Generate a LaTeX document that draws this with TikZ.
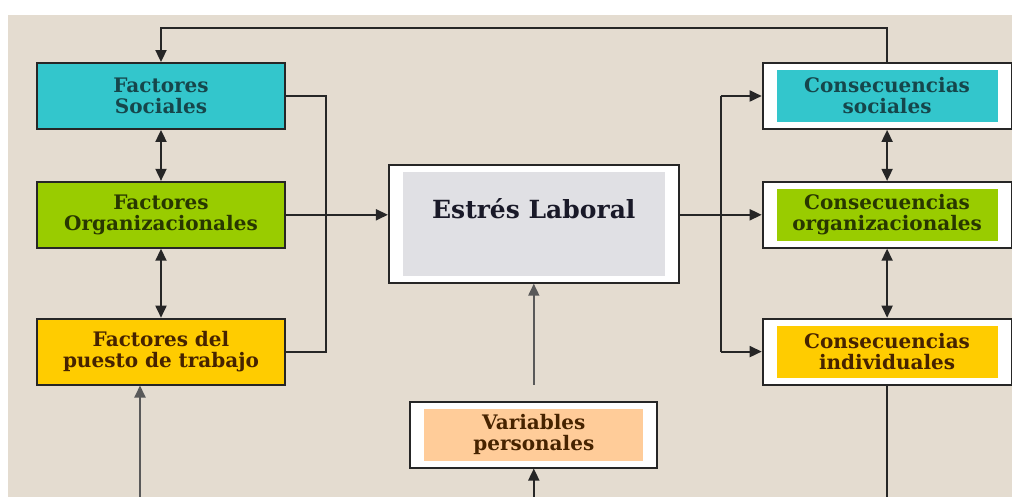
\documentclass[tikz,border=0pt]{standalone}
\usepackage{fontspec}
\setmainfont{DejaVu Serif}
\usetikzlibrary{arrows.meta, positioning, calc}
\definecolor{paper}{RGB}{228,220,208}
\definecolor{socialcyan}{RGB}{51,198,204}
\definecolor{orggreen}{RGB}{153,204,0}
\definecolor{jobyellow}{RGB}{255,204,0}
\definecolor{stressgrey}{RGB}{224,224,228}
\definecolor{peach}{RGB}{255,204,153}
\definecolor{tealtext}{RGB}{22,70,75}
\definecolor{greentext}{RGB}{40,55,0}
\definecolor{browntext}{RGB}{70,35,0}
\definecolor{navytext}{RGB}{25,25,40}
\tikzset{
    factor/.style={rectangle, draw=black!85, line width=1.8pt, align=center, minimum width=248pt, minimum height=66pt, font=\bfseries\fontsize{20}{21}\selectfont},
    framed/.style={rectangle, draw=black!85, line width=1.8pt, fill=white, align=center, minimum width=249pt, minimum height=66pt, font=\bfseries\fontsize{20}{21}\selectfont,
        path picture={\fill[#1] ([xshift=14pt,yshift=-7pt]path picture bounding box.north west) rectangle ([xshift=-14pt,yshift=7pt]path picture bounding box.south east);}},
    arrow/.style={line width=1.8pt, draw=black!85, -{Triangle[length=12pt,width=11pt]}},
    twoway/.style={line width=1.8pt, draw=black!85, {Triangle[length=12pt,width=11pt]}-{Triangle[length=12pt,width=11pt]}},
    link/.style={line width=1.8pt, draw=black!85}
}

\begin{document}
\begin{tikzpicture}[x=1pt, y=1pt]

\useasboundingbox (0,0) rectangle (1012,-497);
\fill[white] (0,0) rectangle (1012,-497);
\fill[paper] (8,-15) rectangle (1012,-497);

% Factores (left column)
\node[factor, fill=socialcyan, text=tealtext] (social) at (161,-96) {Factores\\Sociales};
\node[factor, fill=orggreen, text=greentext] (organiz) [below=51pt of social] {Factores\\Organizacionales};
\node[factor, fill=jobyellow, text=browntext] (puesto) [below=69pt of organiz] {Factores del\\puesto de trabajo};

% Estres Laboral and Variables personales (middle)
\node[framed=stressgrey, text=navytext, minimum width=290pt, minimum height=118pt, font=\bfseries\fontsize{25}{28}\selectfont, text height=18pt, text depth=28pt] (estres) [right=102pt of organiz, yshift=-9pt] {Estrés Laboral};
\node[framed=peach, text=browntext, minimum width=247pt] (variables) [below=117pt of estres] {Variables\\personales};

% Consecuencias (right column)
\node[framed=orggreen, text=greentext] (corg) [right=82pt of estres, yshift=9pt] {Consecuencias\\organizacionales};
\node[framed=socialcyan, text=tealtext] (csocial) [above=51pt of corg] {Consecuencias\\sociales};
\node[framed=jobyellow, text=browntext] (cindiv) [below=69pt of corg] {Consecuencias\\individuales};

% Free ends at the bottom edge
\coordinate (jobin) at (140,-497);
\coordinate (varin) at (variables.south |- jobin);
\coordinate (rsplit) at ($(estres.east)!0.5!(corg.west)$);

% Left side flows
\draw[twoway] (social) -- (organiz);
\draw[twoway] (organiz) -- (puesto);
\draw[link] (social.east) -- ++(40pt,0) |- (puesto.east);
\draw[arrow] (organiz.east) -- (organiz.east -| estres.west);
\draw[arrow, draw=black!65] (jobin) -- (puesto.south -| jobin);

% Middle flows
\draw[arrow] (varin) -- (variables.south);
\draw[arrow, draw=black!65] ([yshift=16pt]variables.north) -- (estres.south);

% Right side flows
\draw[arrow] (corg.west -| estres.east) -- (corg.west);
\draw[link] (rsplit |- csocial.west) -- (rsplit |- cindiv.west);
\draw[arrow] (rsplit |- csocial.west) -- (csocial.west);
\draw[arrow] (rsplit |- cindiv.west) -- (cindiv.west);
\draw[twoway] (csocial) -- (corg);
\draw[twoway] (corg) -- (cindiv);
\draw[link] (cindiv.south) -- (cindiv.south |- jobin);

% Feedback loop over the top
\draw[arrow] (csocial.north) -- ++(0,34pt) -| (social.north);

\end{tikzpicture}
\end{document}
